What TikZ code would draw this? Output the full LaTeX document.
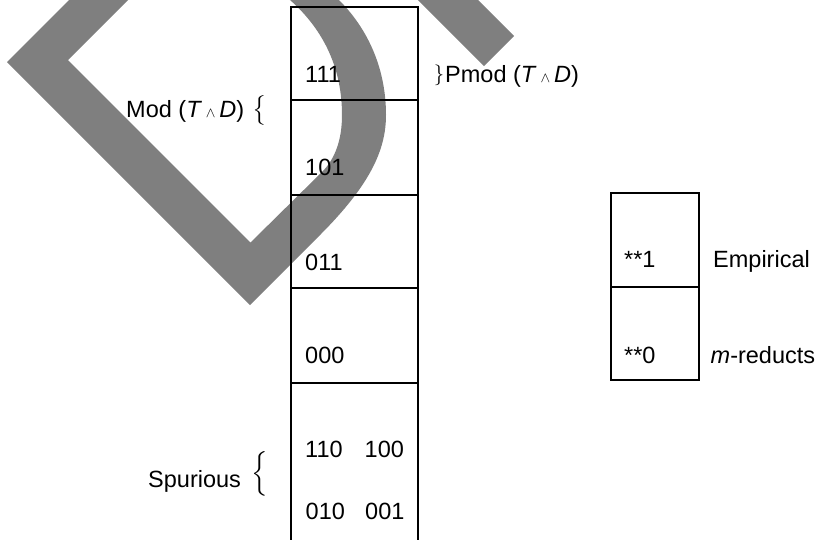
\documentclass[tikz,border=0pt]{standalone}
\usepackage{amsmath}
\usepackage{fontspec}
\setmainfont{Liberation Sans}
\newcommand\mainsz{\fontsize{23.5}{28}\selectfont}
\newcommand\wedgesym{\,{\fontsize{15}{15}\selectfont$\wedge$}\,}
\begin{document}
\begin{tikzpicture}[x=1pt,y=-1pt,
  cell/.style={draw, line width=1.2pt, inner sep=0pt, outer sep=0pt, anchor=north west},
  lbl/.style={inner sep=0pt, anchor=base west, font=\mainsz},
  brc/.style={inner sep=0pt},
  overlay band/.style={fill=black, fill opacity=0.5}]
\useasboundingbox (0,0) rectangle (820,539);
\clip (0,0) rectangle (820,539);
% main column of cells
\node[cell, minimum width=127pt, minimum height=93pt] (c1) at (291,7) {};
\node[cell, minimum width=127pt, minimum height=95pt] (c2) at (291,100) {};
\node[cell, minimum width=127pt, minimum height=93pt] (c3) at (291,195) {};
\node[cell, minimum width=127pt, minimum height=95pt] (c4) at (291,288) {};
\node[cell, minimum width=127pt, minimum height=180pt] (c5) at (291,383) {};
% right pair of cells
\node[cell, minimum width=88pt, minimum height=94pt] (r1) at (611,193) {};
\node[cell, minimum width=88pt, minimum height=93pt] (r2) at (611,287) {};
% cell texts
\node[lbl] (t111) at (305,82) {111};
\node[lbl] (t101) at (305,175) {101};
\node[lbl] (t011) at (305,270) {011};
\node[lbl] (t000) at (305,363) {000};
\node[lbl] (t110) at (305,457) {110};
\node[lbl] (t100) at (364.5,457) {100};
\node[lbl] (t010) at (305.5,519) {010};
\node[lbl] (t001) at (365,519) {001};
\node[lbl] (e1) at (624,267) {**1};
\node[lbl] (e0) at (624,363) {**0};
% side labels
\node[lbl] (emp) at (713,267) {Empirical};
\node[lbl] (mred) at (710.5,363) {\textit{m}-reducts};
\node[lbl] (mod) at (126,117) {Mod (\textit{T}\wedgesym\textit{D})};
\node[brc] (modbr) at (260,110) {\mainsz$\big\{$};
\node[lbl] (spur) at (148,487) {Spurious};
\node[brc] (spbr) at (260,474) {\mainsz$\Big\{$};
\node[brc] (pbr) at (439,75) {\fontsize{20}{20}\selectfont$\}$};
\node[lbl] (pmod) at (445,82) {Pmod (\textit{T}\wedgesym\textit{D})};
% translucent overlay shapes
\fill[overlay band, even odd rule]
  (79,-10) -- (7,62) -- (250,305) -- (320,235)
  .. controls (370,185) and (386,150) .. (386,115)
  .. controls (386,70) and (369,30) .. (339,0) -- (329,-10) -- cycle
  (138,-10) -- (68,60) -- (250.5,242.5) -- (322,172)
  .. controls (335,159) and (342,140) .. (342,115)
  .. controls (342,70) and (325,31) .. (290,0) -- (279,-10) -- cycle;
\fill[overlay band] (408,-10) -- (484,66) -- (514,36) -- (468,-10) -- cycle;
\end{tikzpicture}
\end{document}
